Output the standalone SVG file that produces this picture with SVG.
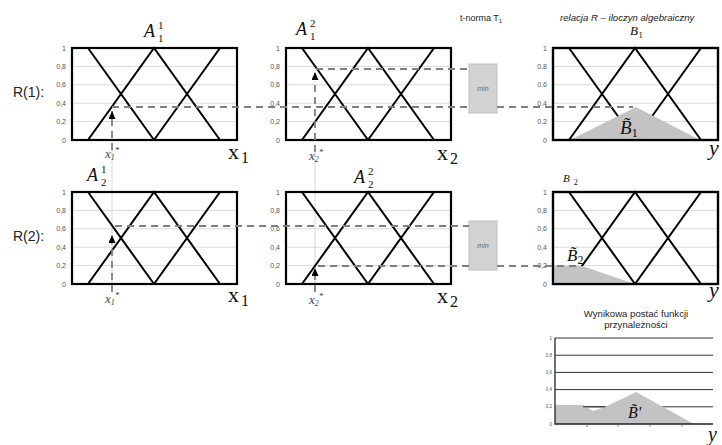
<svg xmlns="http://www.w3.org/2000/svg" xmlns:xlink="http://www.w3.org/1999/xlink" width="722" height="445" viewBox="0 0 722 445">
<style>
.grid{stroke:#d9d9d9;stroke-width:1;fill:none}
.mf{stroke:#000;stroke-width:2;fill:none}
.box{stroke:#000;stroke-width:2.2;fill:none}
.tick{font-family:"Liberation Sans",Arial,sans-serif;font-size:7px;fill:#555;text-anchor:end}
.tick2{font-family:"Liberation Sans",Arial,sans-serif;font-size:4.5px;fill:#555;text-anchor:end}
.dash{stroke:#7f7f7f;stroke-width:1.8;stroke-dasharray:7 5;fill:none}
.faint{stroke:#d0d0d0;stroke-width:0.9;fill:none}
.serif{font-family:"Liberation Serif","Times New Roman",serif;fill:#111}
.it{font-style:italic}
.star{font-family:"Liberation Serif","Times New Roman",serif;font-style:italic;font-size:13px;fill:#444}
.sans{font-family:"Liberation Sans",Arial,sans-serif;fill:#222}
.minbox{fill:#d3d3d3;stroke:#c0c0c0;stroke-width:1}
.mint{font-family:"Liberation Sans",Arial,sans-serif;font-size:7px;font-style:italic;fill:#666;text-anchor:middle}
.fill{fill:#c3c3c3;stroke:none}
.agl{stroke:#333;stroke-width:1;fill:none}
</style>
<defs>
<marker id="arr" markerUnits="userSpaceOnUse" markerWidth="8" markerHeight="8" refX="8" refY="3.5" orient="auto">
<path d="M0,0 L8,3.5 L0,7 z" fill="#000"/>
</marker>
<g id="base">
<path class="grid" d="M0,18.4H165M0,36.8H165M0,55.2H165M0,73.6H165"/>
<path class="mf" d="M16,0L82,92M16,92L82,0L148,92M82,92L148,0"/>
<rect class="box" x="0" y="0" width="165" height="92"/>
</g>
<g id="ticksC">
<text class="tick" x="-6" y="2.5">1</text>
<text class="tick" x="-6" y="20.9">0,8</text>
<text class="tick" x="-6" y="39.3">0,6</text>
<text class="tick" x="-6" y="57.7">0,4</text>
<text class="tick" x="-6" y="76.1">0,2</text>
<text class="tick" x="-6" y="94.5">0</text>
</g>
</defs>

<!-- Row labels and headers -->
<text class="sans" x="13" y="97" font-size="14">R(1):</text>
<text class="sans" x="13" y="241" font-size="14">R(2):</text>
<text class="sans" x="460" y="21" font-size="9" fill="#333">t-norma T<tspan font-size="6" dy="2">1</tspan></text>
<text class="sans it" x="560" y="21" font-size="9.6" fill="#333">relacja <tspan font-style="italic">R</tspan> – iloczyn algebraiczny</text>

<!-- faint guide lines -->
<g id="guides">
<path class="faint" d="M112,150V292M315,150V292"/>
</g>

<g id="plot-A11" transform="translate(72,48)">
<use xlink:href="#base"/>
<use xlink:href="#ticksC"/>
</g>
<g id="plot-A12" transform="translate(286,48)">
<use xlink:href="#base"/>
<use xlink:href="#ticksC"/>
</g>
<g id="plot-B1" transform="translate(553,48)">
<use xlink:href="#base"/>
<polygon class="fill" points="17,92 83,59 147,92"/>
<rect class="box" x="0" y="0" width="165" height="92"/>
<text class="tick" x="-6" y="2.5">1</text>
<text class="tick" x="-6" y="20.9">0.8</text>
<text class="tick" x="-6" y="39.3">0.6</text>
<text class="tick" x="-6" y="57.7">0.4</text>
<text class="tick" x="-6" y="76.1">0.2</text>
<text class="tick" x="-6" y="94.5">0</text>
</g>
<g id="plot-A21" transform="translate(72,192)">
<use xlink:href="#base"/>
<use xlink:href="#ticksC"/>
</g>
<g id="plot-A22" transform="translate(286,192)">
<use xlink:href="#base"/>
<use xlink:href="#ticksC"/>
</g>
<g id="plot-B2" transform="translate(553,192)">
<use xlink:href="#base"/>
<polygon class="fill" points="0,74 29,74 82,92 0,92"/>
<rect class="box" x="0" y="0" width="165" height="92"/>
<use xlink:href="#ticksC"/>
</g>

<!-- min boxes -->
<g id="min1">
<rect class="minbox" x="469" y="64" width="28" height="49"/>
<text class="mint" x="483" y="91">min</text>
</g>
<g id="min2">
<rect class="minbox" x="469" y="221" width="28" height="49"/>
<text class="mint" x="483" y="248">min</text>
</g>

<!-- connectors -->
<g id="connectors">
<path class="dash" d="M112,107H469"/>
<path class="dash" d="M316,69H469"/>
<path class="dash" d="M497,107H633"/>
<path class="dash" d="M112,150V111" marker-end="url(#arr)"/>
<path class="dash" d="M315,152V72" marker-end="url(#arr)"/>
<path class="dash" d="M115,226H469"/>
<path class="dash" d="M318,266H469"/>
<path class="dash" d="M497,266H580"/>
<path class="dash" d="M112,292V235" marker-end="url(#arr)"/>
<path class="dash" d="M315,292V268" marker-end="url(#arr)"/>
</g>

<!-- set labels -->
<g id="labels">
<text class="serif it" x="144" y="37" font-size="18">A</text>
<text class="serif" x="158" y="29" font-size="11">1</text>
<text class="serif" x="158" y="42" font-size="11">1</text>

<text class="serif it" x="296" y="35" font-size="18">A</text>
<text class="serif" x="310" y="27" font-size="11">2</text>
<text class="serif" x="310" y="40" font-size="11">1</text>

<text class="serif it" x="87" y="181" font-size="18">A</text>
<text class="serif" x="101" y="173" font-size="11">1</text>
<text class="serif" x="101" y="186" font-size="11">2</text>

<text class="serif it" x="354" y="183" font-size="18">A</text>
<text class="serif" x="368" y="175" font-size="11">2</text>
<text class="serif" x="368" y="188" font-size="11">2</text>

<text class="serif it" x="630" y="35" font-size="13">B<tspan font-style="normal" font-size="9" dx="0.5" dy="3">1</tspan></text>

<text class="serif it" x="563" y="182" font-size="11">B<tspan font-style="normal" font-size="8" dx="4" dy="3">2</tspan></text>

<text class="serif it" x="620" y="134" font-size="19">B&#x303;<tspan font-style="normal" font-size="13" dy="3">1</tspan></text>

<text class="serif it" x="567" y="261" font-size="17">B&#x303;<tspan font-style="normal" font-size="12" dy="3">2</tspan></text>

<text class="serif" x="228" y="159" font-size="22">x<tspan font-size="16" dx="2" dy="4">1</tspan></text>
<text class="serif" x="228" y="302" font-size="22">x<tspan font-size="16" dx="2" dy="4">1</tspan></text>
<text class="serif" x="437" y="160" font-size="22">x<tspan font-size="16" dx="2" dy="4">2</tspan></text>
<text class="serif" x="437" y="303" font-size="22">x<tspan font-size="16" dx="2" dy="4">2</tspan></text>
<text class="serif it" x="709" y="155" font-size="22">y</text>
<text class="serif it" x="709" y="297" font-size="22">y</text>

<text class="star" x="105" y="158">x<tspan font-size="8" dy="2">1</tspan><tspan font-size="9" dy="-7">*</tspan></text>
<text class="star" x="105" y="303">x<tspan font-size="8" dy="2">1</tspan><tspan font-size="9" dy="-7">*</tspan></text>
<text class="star" x="309" y="160">x<tspan font-size="8" dy="2">2</tspan><tspan font-size="9" dy="-7">*</tspan></text>
<text class="star" x="309" y="304">x<tspan font-size="8" dy="2">2</tspan><tspan font-size="9" dy="-7">*</tspan></text>
</g>

<!-- aggregated result -->
<g id="result">
<text class="sans" x="636" y="317" font-size="9.6" text-anchor="middle" fill="#333">Wynikowa postać funkcji</text>
<text class="sans" x="636" y="328" font-size="9.6" text-anchor="middle" fill="#333">przynależności</text>
<path class="agl" d="M555,338H713M555,355.2H713M555,372.4H713M555,389.6H713M555,406.8H713"/>
<polygon class="fill" points="555,405 583,405 593,411 605,407 636,392 694,424 555,424"/>
<path class="agl" d="M583,406.8H605"/>
<path d="M555,338V424H713" stroke="#222" stroke-width="1.3" fill="none"/>
<path d="M587,424v3M618,424v3M650,424v3M682,424v3" stroke="#555" stroke-width="0.7"/>
<text class="tick2" x="552" y="339.5">1</text>
<text class="tick2" x="552" y="356.7">0,8</text>
<text class="tick2" x="552" y="373.9">0,6</text>
<text class="tick2" x="552" y="391.1">0,4</text>
<text class="tick2" x="552" y="408.3">0,2</text>
<text class="tick2" x="552" y="425.5">0</text>
<text class="serif it" x="628" y="418" font-size="16">B&#x303;'</text>
<text class="serif it" x="708" y="441" font-size="20">y</text>
</g>
</svg>
